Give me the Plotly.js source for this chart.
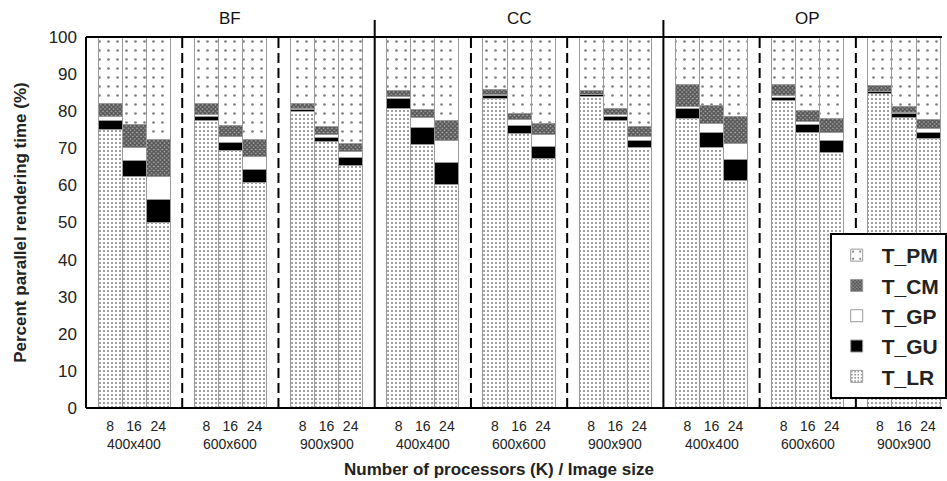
<!DOCTYPE html>
<html>
<head>
<meta charset="utf-8">
<script src="https://cdn.plot.ly/plotly-3.0.1.min.js"></script>
<style>html,body{margin:0;padding:0;background:#fff;}#chart{width:947px;height:481px;}</style>
</head>
<body>
<div id="chart"></div>
<script>
// ---- data ----
const methods = ['BF', 'CC', 'OP'];
const imageSizes = ['400x400', '600x600', '900x900'];
const procs = ['8', '16', '24'];
const seriesNames = ['T_LR', 'T_GU', 'T_GP', 'T_CM', 'T_PM'];
// order: method -> image size -> processors
const T_LR = [75.1, 62.4, 50.0, 77.5, 69.4, 60.8, 80.0, 71.8, 65.5,
              80.6, 71.1, 60.2, 83.3, 74.1, 67.3, 84.0, 77.5, 70.3,
              78.1, 70.2, 61.3, 82.8, 74.3, 68.9, 84.7, 78.4, 72.7];
const T_GU = [2.4, 4.3, 6.3, 1.1, 2.2, 3.4, 0.5, 1.2, 2.1,
              2.7, 4.5, 6.1, 1.0, 2.0, 3.2, 0.5, 1.0, 1.7,
              2.7, 4.1, 5.8, 1.0, 2.0, 3.1, 0.5, 0.9, 1.6];
const T_GP = [1.2, 3.6, 6.1, 0.4, 1.7, 3.6, 0.1, 0.6, 1.5,
              0.6, 2.7, 5.7, 0.3, 1.6, 3.1, 0.1, 0.5, 1.3,
              0.6, 2.5, 4.3, 0.3, 0.9, 2.2, 0.1, 0.3, 1.1];
const T_CM = [3.5, 6.0, 9.9, 3.0, 2.8, 4.5, 1.6, 2.3, 2.1,
              1.6, 2.2, 5.4, 1.3, 1.6, 3.2, 0.9, 1.6, 2.6,
              5.9, 4.7, 7.1, 3.0, 3.0, 3.9, 1.6, 1.8, 2.4];
const T_PM = [17.8, 23.7, 27.7, 18.0, 23.9, 27.7, 17.8, 24.1, 28.8,
              14.5, 19.5, 22.6, 14.1, 20.7, 23.2, 14.5, 19.4, 24.1,
              12.7, 18.5, 21.5, 12.9, 19.8, 21.9, 13.1, 18.6, 22.2];
const yTicks = [0, 10, 20, 30, 40, 50, 60, 70, 80, 90, 100];

// ---- positions derived from category indices ----
const xs = [], xText = [];
methods.forEach((m, p) => imageSizes.forEach((s, g) => procs.forEach((k, b) => {
  xs.push(12 * p + 4 * g + 1 + b); xText.push(k);
})));

const styles = {
  'T_LR': {color: '#ffffff', pattern: {shape: '.', size: 4, solidity: 0.2, fgcolor: '#000', bgcolor: '#fff', fillmode: 'overlay'}},
  'T_GU': {color: '#000000'},
  'T_GP': {color: '#ffffff'},
  'T_CM': {color: '#777777', pattern: {shape: 'x', size: 3, solidity: 0.75, fgcolor: '#000', bgcolor: '#aaa', fillmode: 'overlay'}},
  'T_PM': {color: '#ffffff', pattern: {shape: '.', size: 9, solidity: 0.07, fgcolor: '#000', bgcolor: '#fff', fillmode: 'overlay'}}
};
const values = {T_LR, T_GU, T_GP, T_CM, T_PM};

const traces = seriesNames.map(n => ({
  type: 'bar', name: n, x: xs, y: values[n], width: 1,
  legendgroup: n,
  marker: Object.assign({line: {color: '#9a9a9a', width: 1}}, styles[n]),
  hoverinfo: 'skip'
}));

const shapes = [];
const line = (x0, x1, y0, y1, w, dash, xref, yref) => shapes.push({
  type: 'line', xref: xref, yref: yref, x0: x0, x1: x1, y0: y0, y1: y1,
  line: {color: '#000', width: w, dash: dash}
});
// frame
line(0, 0, 0, 1, 2, 'solid', 'paper', 'paper');
line(0, 1, 1, 1, 2, 'solid', 'paper', 'paper');
line(0, 1, 0, 0, 2, 'solid', 'paper', 'paper');
methods.forEach((m, p) => {
  if (p > 0) line(12 * p, 12 * p, 0, 1.046, 2, 'solid', 'x', 'paper');
  imageSizes.forEach((s, g) => { if (g > 0) line(12 * p + 4 * g, 12 * p + 4 * g, 0, 1, 2, '10px,5px', 'x', 'paper'); });
});

const annotations = [];
methods.forEach((m, p) => {
  annotations.push({xref: 'x', yref: 'paper', x: 12 * p + 6, y: 1.051, text: m, showarrow: false,
    font: {size: 17, color: '#111'}, xanchor: 'center', yanchor: 'middle'});
  imageSizes.forEach((s, g) => annotations.push({xref: 'x', yref: 'paper', x: 12 * p + 4 * g + 2, y: -0.097,
    text: s, showarrow: false, font: {size: 14, color: '#222'}, xanchor: 'center', yanchor: 'middle'}));
});
annotations.push({xref: 'paper', yref: 'paper', x: 0.482, y: -0.167, text: '<b>Number of processors (K) / Image size</b>',
  showarrow: false, font: {size: 17, color: '#222'}, xanchor: 'center', yanchor: 'middle'});
annotations.push({xref: 'paper', yref: 'paper', x: -0.0767, y: 0.5, text: '<b>Percent parallel rendering time (%)</b>',
  showarrow: false, textangle: -90, font: {size: 17, color: '#222'}, xanchor: 'center', yanchor: 'middle'});

const layout = {
  width: 947, height: 481,
  margin: {l: 86, r: 0, t: 37, b: 73, pad: 0},
  paper_bgcolor: '#fff', plot_bgcolor: '#fff',
  font: {family: '"Liberation Sans", Arial, sans-serif', color: '#222'},
  barmode: 'stack', bargap: 0,
  showlegend: true,
  legend: {x: 0.8688, y: 0.4717, xanchor: 'left', yanchor: 'top', traceorder: 'reversed',
    bgcolor: '#fff', bordercolor: '#000', borderwidth: 2, tracegroupgap: 6, itemwidth: 40,
    font: {size: 21, color: '#222', weight: 'bold'}},
  xaxis: {range: [0, 35.58], showgrid: false, zeroline: false, showline: false,
    tickmode: 'array', tickvals: xs, ticktext: xText, ticks: '', ticklabelstandoff: 8,
    tickfont: {size: 14, color: '#222'}, fixedrange: true},
  yaxis: {range: [0, 100], showgrid: false, zeroline: false, showline: false,
    tickmode: 'array', tickvals: yTicks, ticks: '', ticklabelstandoff: 8,
    tickfont: {size: 17, color: '#222'}, fixedrange: true},
  shapes: shapes,
  annotations: annotations
};
Plotly.newPlot('chart', traces, layout, {displayModeBar: false, staticPlot: true});
</script>
</body>
</html>
